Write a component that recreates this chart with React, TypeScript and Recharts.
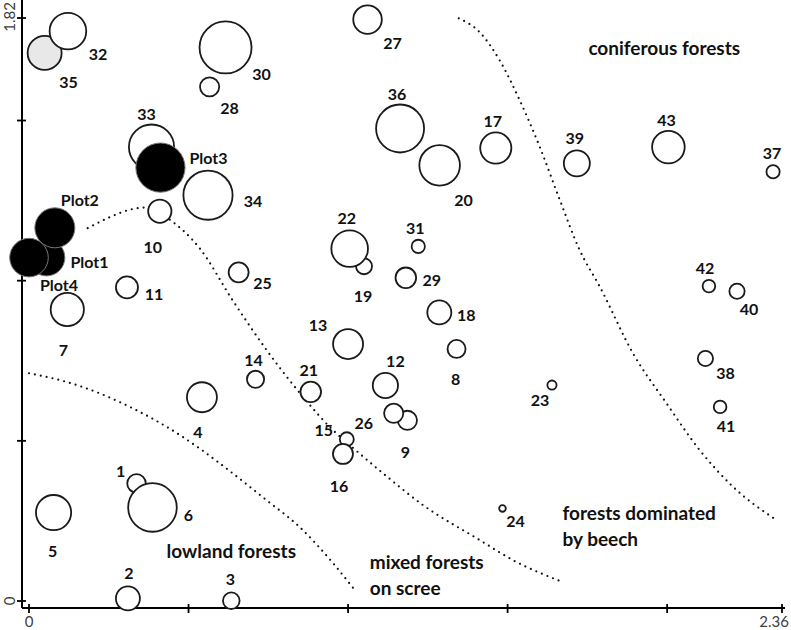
import { ScatterChart, Scatter, XAxis, YAxis, ZAxis } from 'recharts';

// plot ordination: sites 1..43 + four study plots
const siteIds = [
  '1', '2', '3', '4', '5', '6', '7', '8', '9', '10', '11', '12', '13', '14', '15', '16', '17', '18', '19', '20', '21', '22',
  '23', '24', '25', '26', '27', '28', '29', '30', '31', '32', '33', '34', '35', '36', '37', '38', '39', '40', '41', '42', '43',
];
const siteX = [
  0.337, 0.31, 0.634, 0.542, 0.077, 0.387, 0.12, 1.34, 1.186, 0.41, 0.307, 1.117, 1.0, 0.71, 0.996, 0.984, 1.463, 1.286, 1.05, 1.287, 0.883, 1.005,
  1.639, 1.484, 0.657, 1.143, 1.061, 0.566, 1.181, 0.616, 1.22, 0.122, 0.384, 0.561, 0.049, 1.163, 2.332, 2.12, 1.717, 2.219, 2.166, 2.131, 2.004,
];
const siteY = [
  0.367, 0.008, 0.001, 0.636, 0.276, 0.292, 0.91, 0.787, 0.564, 1.217, 0.979, 0.673, 0.802, 0.692, 0.505, 0.459, 1.414, 0.901, 1.045, 1.36, 0.653, 1.1,
  0.674, 0.289, 1.026, 0.586, 1.815, 1.605, 1.009, 1.728, 1.107, 1.779, 1.417, 1.267, 1.711, 1.475, 1.34, 0.757, 1.366, 0.967, 0.606, 0.983, 1.417,
];
const siteSize = [
  8.6, 14.4, 6.9, 22.5, 31.0, 59.0, 27.6, 8.1, 9.2, 13.5, 12.1, 15.9, 22.5, 7.4, 4.9, 10.0, 24.3, 14.4, 6.4, 41.2, 10.6, 33.5,
  2.1, 1.1, 10.0, 9.2, 20.4, 9.2, 10.6, 67.6, 4.4, 33.5, 51.1, 60.5, 28.9, 57.6, 4.4, 5.8, 16.9, 5.8, 4.0, 4.0, 26.6,
];
const shadedSites = ['35'];

const plotIds = ['Plot1', 'Plot2', 'Plot3', 'Plot4'];
const plotX = [0.055, 0.081, 0.412, 0.0];
const plotY = [1.072, 1.165, 1.353, 1.072];
const plotSize = [33.5, 40.0, 60.5, 37.2];

// dotted boundaries between forest types
const lowlandEdge = [
  [0, 0.711], [0.117, 0.684], [0.222, 0.648], [0.326, 0.601], [0.431, 0.544], [0.535, 0.476],
  [0.639, 0.398], [0.744, 0.315], [0.848, 0.231], [0.953, 0.118], [1.021, 0.034],
];
const screeEdge = [
  [0.184, 1.164], [0.253, 1.198], [0.322, 1.223], [0.378, 1.229], [0.435, 1.195], [0.535, 1.101], [0.638, 0.939],
  [0.745, 0.783], [0.849, 0.649], [0.952, 0.534], [1.005, 0.487], [1.109, 0.399], [1.234, 0.3], [1.413, 0.19],
  [1.516, 0.128], [1.673, 0.059],
];
const coniferEdge = [
  [1.347, 1.819], [1.412, 1.776], [1.475, 1.688], [1.538, 1.563], [1.601, 1.417], [1.664, 1.251], [1.726, 1.095],
  [1.789, 0.981], [1.893, 0.773], [1.998, 0.617], [2.102, 0.471], [2.206, 0.357], [2.342, 0.253],
];

const regionText = [['coniferous forests'], ['lowland forests'], ['mixed forests', 'on scree'], ['forests dominated', 'by beech']];
const regionX = [1.991, 0.634, 1.068, 1.672];
const regionY = [1.729, 0.159, 0.122, 0.276];
const regionAnchor = ['middle', 'middle', 'start', 'start'];

const xTicks = [0, 0.5, 1, 1.5, 2, 2.36];
const yTicks = [0, 0.5, 1, 1.5, 1.82];

// where each number sits relative to its circle (px)
const labelOffset: Record<string, [number, number]> = {
  '1': [-16, -13], '2': [1, -26], '3': [-1, -22], '4': [-4, 34], '5': [-1, 38], '6': [36, 7], '7': [-4, 40],
  '8': [-1, 30], '9': [-2, 31], '10': [-7, 35], '11': [27, 6], '12': [10, -25], '13': [-30, -20], '14': [-2, -20],
  '15': [-23, -10], '16': [-4, 32], '17': [-3, -28], '18': [27, 2], '19': [-1, 29], '20': [24, 34], '21': [-2, -22],
  '22': [-3, -31], '23': [-12, 14], '24': [13, 12], '25': [24, 10], '26': [-30, 9], '27': [25, 23], '28': [20, 21],
  '29': [26, 2], '30': [36, 26], '31': [-3, -19], '32': [30, 22], '33': [-5, -34], '34': [45, 5], '35': [24, 29],
  '36': [-3, -35], '37': [-1, -19], '38': [20, 14], '39': [-2, -26], '40': [12, 17], '41': [6, 19], '42': [-4, -19],
  '43': [-2, -28], Plot1: [43, 4], Plot2: [25, -28], Plot3: [48, -10], Plot4: [30, 27],
};

const FONT = 'Lato, sans-serif';

const sites = siteIds.map((id, i) => ({ id, x: siteX[i], y: siteY[i], z: siteSize[i] }));
const shaded = sites.filter((s) => shadedSites.includes(s.id));
const plain = sites.filter((s) => !shadedSites.includes(s.id));
const plots = plotIds.map((id, i) => ({ id, x: plotX[i], y: plotY[i], z: plotSize[i] }));
const toPts = (arr: number[][]) => arr.map(([x, y]) => ({ x, y }));
const regions = regionText.map((lines, i) => ({ lines, x: regionX[i], y: regionY[i], anchor: regionAnchor[i] }));

const dotted = { stroke: '#111', strokeWidth: 2.2, strokeDasharray: '0 6', strokeLinecap: 'round' as const };

function bubble(fill: string, stroke: string, sw: number) {
  return (p: any) => {
    const r = p.width ? p.width / 2 : Math.sqrt((p.size || 0) / Math.PI);
    const id = p.payload.id;
    const [dx, dy] = labelOffset[id] || [0, 0];
    return (
      <g>
        <circle cx={p.cx} cy={p.cy} r={r} fill={fill} stroke={stroke} strokeWidth={sw} />
        <text
          x={p.cx + dx}
          y={p.cy + dy}
          textAnchor="middle"
          dominantBaseline="central"
          fontFamily={FONT}
          fontWeight="bold"
          fontSize={16}
          fill="#111"
        >
          {id}
        </text>
      </g>
    );
  };
}

const RegionLabel = (p: any) => (
  <text x={p.cx} y={p.cy} textAnchor={p.payload.anchor} fontFamily={FONT} fontWeight="bold" fontSize={19} fill="#111">
    {p.payload.lines.map((l: string, i: number) => (
      <tspan key={i} x={p.cx} y={p.cy + i * 26} dominantBaseline="central">
        {l}
      </tspan>
    ))}
  </text>
);

const XTick = ({ x, y, payload }: any) => {
  const v = payload.value;
  const last = v === 2.36;
  return (
    <g>
      <line x1={x} x2={x} y1={y - 4} y2={y + 5} stroke="#000" strokeWidth={1.8} />
      {(v === 0 || last) && (
        <text x={last ? x + 7 : x} y={y + 13} textAnchor={last ? 'end' : 'middle'} dominantBaseline="central" fontFamily={FONT} fontSize={15} fill="#404040">
          {v}
        </text>
      )}
    </g>
  );
};

const YTick = ({ x, y, payload }: any) => {
  const v = payload.value;
  const top = v === 1.82;
  const ty = top ? 17 : y;
  return (
    <g>
      <line x1={x - 5} x2={x + 4} y1={y} y2={y} stroke="#000" strokeWidth={1.8} />
      {(v === 0 || top) && (
        <text
          x={x - 13}
          y={ty}
          transform={`rotate(-90, ${x - 13}, ${ty})`}
          textAnchor="middle"
          dominantBaseline="central"
          fontFamily={FONT}
          fontSize={15}
          fill="#404040"
        >
          {v}
        </text>
      )}
    </g>
  );
};

export default function App() {
  return (
    <div style={{ position: 'absolute', left: 0, top: 0, background: '#fff' }}>
      <ScatterChart width={791} height={630} margin={{ top: 0, right: 6, bottom: 21, left: 21 }}>
        <XAxis
          type="number"
          dataKey="x"
          domain={[0, 2.36]}
          ticks={xTicks}
          interval={0}
          height={1}
          padding={{ left: 7, right: 3 }}
          tickSize={0}
          tickMargin={0}
          tickLine={false}
          axisLine={{ stroke: '#000', strokeWidth: 2 }}
          tick={<XTick />}
        />
        <YAxis
          type="number"
          dataKey="y"
          domain={[0, 1.82]}
          ticks={yTicks}
          interval={0}
          width={1}
          padding={{ top: 18, bottom: 7 }}
          tickSize={0}
          tickMargin={0}
          tickLine={false}
          axisLine={{ stroke: '#000', strokeWidth: 2 }}
          tick={<YTick />}
        />
        <ZAxis type="number" dataKey="z" domain={[0, 100]} range={[0, 1000 * Math.PI]} />
        <Scatter data={toPts(lowlandEdge)} line={dotted} lineJointType="monotoneX" shape={() => <g />} isAnimationActive={false} />
        <Scatter data={toPts(screeEdge)} line={dotted} lineJointType="monotoneX" shape={() => <g />} isAnimationActive={false} />
        <Scatter data={toPts(coniferEdge)} line={dotted} lineJointType="monotoneX" shape={() => <g />} isAnimationActive={false} />
        <Scatter data={regions} shape={RegionLabel} isAnimationActive={false} />
        <Scatter data={shaded} shape={bubble('#e8e8e8', '#1a1a1a', 1.8)} isAnimationActive={false} />
        <Scatter data={plain} shape={bubble('#fff', '#1a1a1a', 1.8)} isAnimationActive={false} />
        <Scatter data={plots} shape={bubble('#000', '#777', 1)} isAnimationActive={false} />
      </ScatterChart>
    </div>
  );
}
